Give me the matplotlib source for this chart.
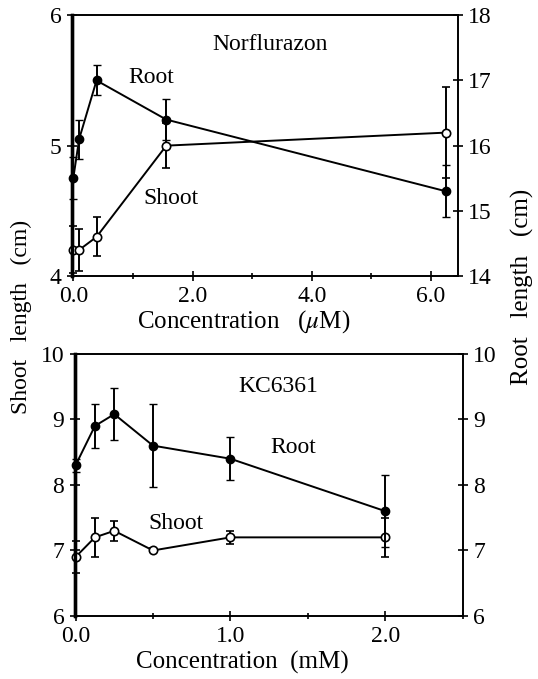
import numpy as np
import matplotlib.pyplot as plt
from matplotlib.ticker import MultipleLocator

plt.rcParams['font.family'] = ['Liberation Serif', 'DejaVu Serif']
plt.rcParams['mathtext.fontset'] = 'stix'

# Norflurazon (uM)
nf_conc = [0.0, 0.098, 0.39, 1.56, 6.25]
nf_shoot = [4.2, 4.2, 4.3, 5.0, 5.1]
nf_shoot_err = [0.18, 0.16, 0.15, 0.17, 0.35]
nf_root = [15.5, 16.1, 17.0, 16.4, 15.3]
nf_root_err = [0.32, 0.3, 0.23, 0.32, 0.4]

# KC6361 (mM)
kc_conc = [0.0, 0.125, 0.25, 0.5, 1.0, 2.0]
kc_shoot = [6.9, 7.2, 7.3, 7.0, 7.2, 7.2]
kc_shoot_err = [0.25, 0.3, 0.15, 0.03, 0.1, 0.3]
kc_root = [8.3, 8.9, 9.08, 8.6, 8.4, 7.6]
kc_root_err = [0.1, 0.33, 0.4, 0.63, 0.33, 0.55]

tick_fs = 17
lab_fs = 18
txt_fs = 17


def style(ax, lw_left=2.4):
    for s in ax.spines.values():
        s.set_linewidth(1.2)
    ax.spines['left'].set_linewidth(lw_left)
    ax.tick_params(direction='inout', length=7, width=1.2, labelsize=tick_fs, pad=4)
    ax.tick_params(which='minor', direction='inout', length=5, width=1.2)


def panel(rect, conc, shoot, shoot_err, root, root_err, ylim_l, ylim_r, xlim):
    ax = fig.add_axes(rect)
    ax2 = ax.twinx()
    l1 = ax.errorbar(conc, shoot, yerr=shoot_err, color='black', lw=1.4, marker='o',
                     ms=6, mfc='white', mec='black', mew=1.2, capsize=3,
                     elinewidth=1.4, zorder=3)
    l2 = ax2.errorbar(conc, root, yerr=root_err, color='black', lw=1.4, marker='o',
                      ms=6, mfc='black', mec='black', capsize=3, elinewidth=1.4,
                      zorder=3)
    for eb in (l1, l2):
        for art in eb.get_children():
            art.set_clip_on(False)
    ax.set_ylim(*ylim_l)
    ax2.set_ylim(*ylim_r)
    ax.set_xlim(*xlim)
    ax.yaxis.set_major_locator(MultipleLocator(1))
    ax2.yaxis.set_major_locator(MultipleLocator(1))
    style(ax)
    style(ax2)
    return ax, ax2


fig = plt.figure(figsize=(5.38, 6.79), dpi=100)

# Top panel: Norflurazon
ax, ax2 = panel([0.134, 0.5935, 0.717, 0.384], nf_conc, nf_shoot, nf_shoot_err,
                nf_root, nf_root_err, (4, 6), (14, 18), (-0.02, 6.45))
ax.xaxis.set_minor_locator(MultipleLocator(1))
ax.set_xticks([0, 2, 4, 6])
ax.set_xticklabels(['0.0', '2.0', '4.0', '6.0'])
ax.set_xlabel(r'Concentration   ($\mu$M)', fontsize=lab_fs)
ax.xaxis.set_label_coords(0.446, -0.125)
ax.text(0.513, 0.889, 'Norflurazon', transform=ax.transAxes, fontsize=txt_fs,
        ha='center', va='center')
ax.text(0.205, 0.762, 'Root', transform=ax.transAxes, fontsize=txt_fs,
        ha='center', va='center')
ax.text(0.256, 0.299, 'Shoot', transform=ax.transAxes, fontsize=txt_fs,
        ha='center', va='center')

# Bottom panel: KC6361
bx, bx2 = panel([0.139, 0.0928, 0.721, 0.386], kc_conc, kc_shoot, kc_shoot_err,
                kc_root, kc_root_err, (6, 10), (6, 10), (-0.005, 2.5))
bx.xaxis.set_minor_locator(MultipleLocator(0.5))
bx.set_xticks([0, 1, 2])
bx.set_xticklabels(['0.0', '1.0', '2.0'])
bx.set_xlabel('Concentration  (mM)', fontsize=lab_fs)
bx.xaxis.set_label_coords(0.431, -0.135)
bx.text(0.524, 0.874, 'KC6361', transform=bx.transAxes, fontsize=txt_fs,
        ha='center', va='center')
bx.text(0.562, 0.641, 'Root', transform=bx.transAxes, fontsize=txt_fs,
        ha='center', va='center')
bx.text(0.26, 0.351, 'Shoot', transform=bx.transAxes, fontsize=txt_fs,
        ha='center', va='center')

fig.text(0.039, 0.533, 'Shoot   length   (cm)', rotation=90, fontsize=17,
         ha='center', va='center')
fig.text(0.972, 0.577, 'Root   length   (cm)', rotation=90, fontsize=18,
         ha='center', va='center')

fig.savefig('out.png', dpi=100)
